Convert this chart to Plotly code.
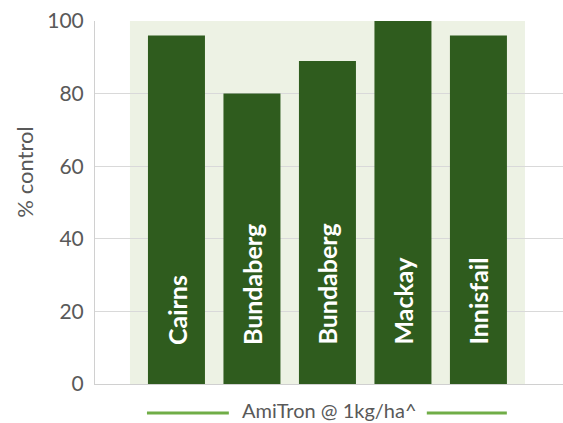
import plotly.graph_objects as go

categories = ["Cairns", "Bundaberg", "Bundaberg", "Mackay", "Innisfail"]
values = [96, 80, 89, 100, 96]
series_name = "AmiTron @ 1kg/ha^"
y_ticks = [0, 20, 40, 60, 80, 100]

xpos = list(range(len(categories)))

fig = go.Figure()
fig.add_trace(go.Bar(
    x=xpos, y=values, width=0.755,
    marker=dict(color="#2F5C1E", line=dict(width=0)),
    name=series_name, showlegend=False, hoverinfo="skip",
))

for xi, name in zip(xpos, categories):
    fig.add_annotation(text=name, x=xi, y=10.3, xref="x", yref="y", textangle=-90,
                       showarrow=False, xanchor="center", yanchor="bottom",
                       font=dict(family="Lato", size=25, color="white", weight="bold"))

fig.add_shape(type="rect", xref="x", yref="y", x0=-0.616, x1=4.616, y0=0, y1=100,
              fillcolor="#EDF2E4", line=dict(width=0), layer="below")

fig.add_shape(type="line", xref="paper", yref="paper", x0=0.111, x1=0.286, y0=-0.08, y1=-0.08,
              line=dict(color="#70AD47", width=3))
fig.add_shape(type="line", xref="paper", yref="paper", x0=0.709, x1=0.880, y0=-0.08, y1=-0.08,
              line=dict(color="#70AD47", width=3))
fig.add_annotation(text=series_name, xref="paper", yref="paper", x=0.502, y=-0.072,
                   showarrow=False, xanchor="center", yanchor="middle",
                   font=dict(family="Lato", size=20, color="#595959"))

fig.add_annotation(text="% control", xref="paper", yref="paper", x=-0.1496, y=0.585,
                   textangle=-90, showarrow=False, xanchor="center", yanchor="middle",
                   font=dict(family="Lato", size=22, color="#595959"))

fig.update_layout(
    width=563, height=423,
    margin=dict(l=95, r=0, t=21, b=39),
    plot_bgcolor="white", paper_bgcolor="white",
    bargap=0.245,
)
fig.update_xaxes(range=[-1.079, 5.12], showticklabels=False, showgrid=False,
                 zeroline=False, showline=True, linecolor="#D0D0D0", linewidth=1)
fig.update_yaxes(range=[0, 100], tickvals=y_ticks, showgrid=True, gridcolor="#D9D9D9",
                 gridwidth=1, zeroline=False, showline=True, linecolor="#D0D0D0",
                 tickfont=dict(family="Lato", size=21, color="#595959"),
                 ticks="", ticklabelstandoff=6)

fig.write_html("out.html")
